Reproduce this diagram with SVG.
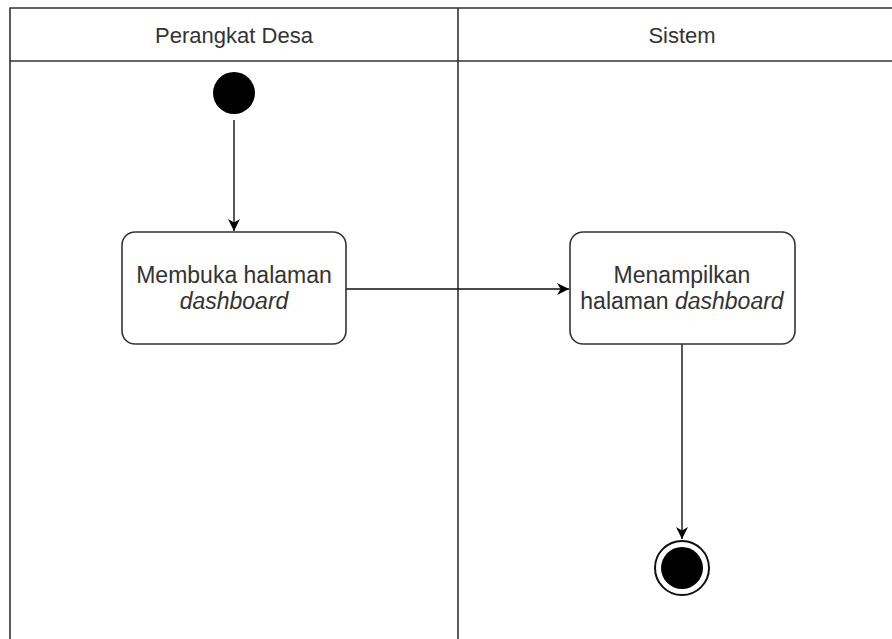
<svg xmlns="http://www.w3.org/2000/svg" width="892" height="639" viewBox="0 0 892 639">
  <style>
    .lane { fill: none; stroke: #333; stroke-width: 1.6; }
    .hdr { font-family: "Liberation Sans", Arial, sans-serif; font-size: 22px; fill: #333; text-anchor: middle; }
    .act { fill: #fff; stroke: #333; stroke-width: 1.6; }
    .lbl { font-family: "Liberation Sans", Arial, sans-serif; font-size: 23px; fill: #333; text-anchor: middle; }
    .edge { fill: none; stroke: #111; stroke-width: 1.4; }
  </style>
  <defs>
    <marker id="arrow" viewBox="0 0 10 10" refX="10" refY="5" markerWidth="12" markerHeight="12" markerUnits="userSpaceOnUse" orient="auto">
      <path d="M0,0 L10,5 L0,10 L3,5 Z" fill="#000"/>
    </marker>
  </defs>
  <rect width="892" height="639" fill="#fff"/>

  <!-- swimlanes -->
  <g id="lanes">
    <path class="lane" d="M10,639 V8 H892 M10,61 H892 M458,8 V639"/>
    <text class="hdr" x="234" y="43">Perangkat Desa</text>
    <text class="hdr" x="682" y="43">Sistem</text>
  </g>

  <!-- connectors -->
  <g id="edges">
    <path class="edge" d="M234,120 V231" marker-end="url(#arrow)"/>
    <path class="edge" d="M346,289 H569" marker-end="url(#arrow)"/>
    <path class="edge" d="M682,344 V539" marker-end="url(#arrow)"/>
  </g>

  <g id="start">
    <circle cx="234" cy="93" r="21" fill="#000"/>
  </g>

  <g id="buka">
    <rect class="act" x="122" y="232" width="224" height="112" rx="13"/>
    <text class="lbl" x="234" y="283">Membuka halaman</text>
    <text class="lbl" x="234" y="309" font-style="italic">dashboard</text>
  </g>

  <g id="tampil">
    <rect class="act" x="570" y="232" width="225" height="112" rx="13"/>
    <text class="lbl" x="682" y="283">Menampilkan</text>
    <text class="lbl" x="682" y="309">halaman <tspan font-style="italic">dashboard</tspan></text>
  </g>

  <g id="end">
    <circle cx="682" cy="568" r="27" fill="#fff" stroke="#111" stroke-width="2"/>
    <circle cx="682" cy="568" r="21" fill="#000"/>
  </g>
</svg>
